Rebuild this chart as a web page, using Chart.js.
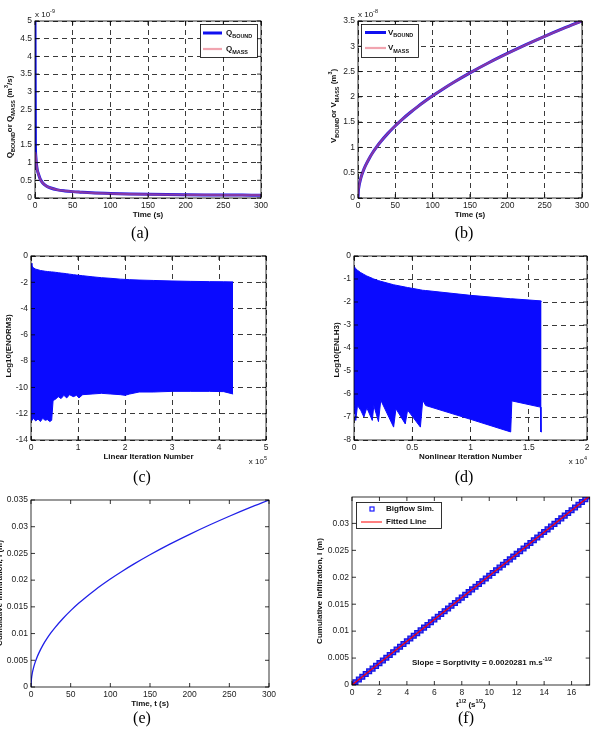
<!DOCTYPE html>
<html>
<head>
<meta charset="utf-8">
<script src="https://cdn.jsdelivr.net/npm/chart.js@4.4.0/dist/chart.umd.min.js"></script>
<style>
  body { margin: 0; background: #fff; width: 595px; height: 729px; position: relative; overflow: hidden; }
  canvas { position: absolute; }
  .cap { position: absolute; font-family: "Liberation Serif", "Times New Roman", serif; font-size: 16px;
         line-height: 18px; transform: translateX(-50%); color: #000; }
</style>
</head>
<body>
<canvas id="ca" width="295" height="225" style="left:0;top:0"></canvas>
<canvas id="cb" width="300" height="225" style="left:295px;top:0"></canvas>
<canvas id="cc" width="295" height="235" style="left:0;top:240px"></canvas>
<canvas id="cd" width="300" height="235" style="left:295px;top:240px"></canvas>
<canvas id="ce" width="300" height="235" style="left:-10px;top:480px"></canvas>
<canvas id="cf" width="300" height="235" style="left:295px;top:480px"></canvas>

<div class="cap" style="left:140px;top:224px">(a)</div>
<div class="cap" style="left:464px;top:224px">(b)</div>
<div class="cap" style="left:142px;top:468px">(c)</div>
<div class="cap" style="left:464px;top:468px">(d)</div>
<div class="cap" style="left:142px;top:709px">(e)</div>
<div class="cap" style="left:466px;top:709px">(f)</div>

<script>
// (a) flux through boundary / from mass balance, in 1e-9 m3/s
const tFlux = [0, 0.5, 1, 2, 3, 5, 7, 10, 15, 20, 30, 40, 50, 60, 75, 100, 125, 150, 175, 200, 225, 250, 275, 300];
const qBound = [5.0, 1.6, 1.2, 0.95, 0.8, 0.65, 0.53, 0.43, 0.34, 0.29, 0.23, 0.2, 0.18, 0.165, 0.145, 0.125, 0.112, 0.103, 0.096, 0.091, 0.087, 0.084, 0.082, 0.08];
const qMass = [1.3, 1.25, 1.2, 0.95, 0.8, 0.65, 0.53, 0.43, 0.34, 0.29, 0.23, 0.2, 0.18, 0.165, 0.145, 0.125, 0.112, 0.103, 0.096, 0.091, 0.087, 0.084, 0.082, 0.08];

// (b) cumulative volume, in 1e-8 m3
const tVol = [0, 0.5, 1, 2, 3, 5, 7, 10, 15, 20, 25, 30, 40, 50, 60, 70, 80, 90, 100, 115, 130, 150, 175, 200, 225, 250, 275, 300];
const vBound = [0, 0.143, 0.202, 0.286, 0.35, 0.452, 0.535, 0.639, 0.783, 0.904, 1.011, 1.107, 1.278, 1.429, 1.566, 1.691, 1.808, 1.917, 2.021, 2.167, 2.304, 2.475, 2.674, 2.858, 3.032, 3.196, 3.352, 3.5];
const vMass = [0, 0.143, 0.202, 0.286, 0.35, 0.452, 0.535, 0.639, 0.783, 0.904, 1.011, 1.107, 1.278, 1.429, 1.566, 1.691, 1.808, 1.917, 2.021, 2.167, 2.304, 2.475, 2.674, 2.858, 3.032, 3.196, 3.352, 3.5];

// (c) envelope of log10(ENORM3), iteration in 1e5
const cIter = [0, 0.02, 0.05, 0.1, 0.15, 0.2, 0.25, 0.3, 0.35, 0.4, 0.44, 0.47, 0.52, 0.58, 0.64, 0.7, 0.76, 0.82, 0.9, 0.97, 1.02, 1.1, 1.3, 1.5, 1.7, 1.9, 2.0, 2.1, 2.3, 2.6, 3.0, 3.4, 3.8, 4.1, 4.3];
const cTop = [-0.55, -0.75, -0.9, -1.0, -1.05, -1.1, -1.13, -1.16, -1.18, -1.2, -1.21, -1.22, -1.24, -1.27, -1.3, -1.32, -1.35, -1.38, -1.42, -1.45, -1.47, -1.5, -1.58, -1.65, -1.7, -1.76, -1.78, -1.8, -1.83, -1.86, -1.9, -1.93, -1.95, -1.96, -1.97];
const cBottom = [-12.3, -12.5, -12.35, -12.55, -12.4, -12.6, -12.35, -12.5, -12.45, -12.6, -12.5, -11.0, -10.9, -10.7, -10.85, -10.6, -10.8, -10.55, -10.7, -10.6, -10.8, -10.55, -10.5, -10.45, -10.5, -10.55, -10.6, -10.5, -10.35, -10.35, -10.3, -10.3, -10.3, -10.32, -10.5];

// (d) envelope of log10(ENLH3), iteration in 1e4
const dIter = [0, 0.015, 0.03, 0.057, 0.085, 0.11, 0.157, 0.17, 0.21, 0.23, 0.34, 0.36, 0.44, 0.46, 0.57, 0.59, 0.615, 1.0, 1.345, 1.355, 1.6, 1.605, 1.61];
const dTop = [-0.45, -0.55, -0.62, -0.72, -0.8, -0.87, -0.97, -1.0, -1.07, -1.1, -1.25, -1.27, -1.35, -1.37, -1.47, -1.49, -1.5, -1.71, -1.86, -1.86, -1.95, -1.96, -1.98];
const dBottom = [-6.35, -7.15, -6.5, -6.7, -7.0, -6.6, -7.15, -6.5, -7.2, -6.27, -7.44, -6.64, -7.3, -6.7, -7.44, -6.27, -6.5, -7.1, -7.65, -6.3, -6.57, -7.65, -7.65];

// (e) cumulative infiltration (m) vs time (s)
const tInf = [0, 0.5, 1, 2, 3, 5, 7, 10, 15, 20, 25, 30, 40, 50, 60, 70, 80, 90, 100, 115, 130, 150, 175, 200, 225, 250, 275, 300];
const infil = [0, 0.00143, 0.00202, 0.00286, 0.0035, 0.00452, 0.00535, 0.00639, 0.00783, 0.00904, 0.01011, 0.01107, 0.01278, 0.01429, 0.01566, 0.01691, 0.01808, 0.01917, 0.02021, 0.02167, 0.02304, 0.02475, 0.02674, 0.02858, 0.03032, 0.03196, 0.03352, 0.035];

// (f) infiltration vs sqrt(t)
const sqrtT = [0.15, 0.25, 0.5, 0.75, 1, 1.25, 1.5, 1.75, 2, 2.25, 2.5, 2.75, 3, 3.25, 3.5, 3.75, 4, 4.25, 4.5, 4.75,
  5, 5.25, 5.5, 5.75, 6, 6.25, 6.5, 6.75, 7, 7.25, 7.5, 7.75, 8, 8.25, 8.5, 8.75, 9, 9.25, 9.5, 9.75,
  10, 10.25, 10.5, 10.75, 11, 11.25, 11.5, 11.75, 12, 12.25, 12.5, 12.75, 13, 13.25, 13.5, 13.75, 14, 14.25, 14.5, 14.75,
  15, 15.25, 15.5, 15.75, 16, 16.25, 16.5, 16.75, 17, 17.25, 17.32];
const simI = [0, 0.00051, 0.00101, 0.00152, 0.00203, 0.00254, 0.00304, 0.00355, 0.00406, 0.00456, 0.00507, 0.00558, 0.00608, 0.00659, 0.0071, 0.00761, 0.00811, 0.00862, 0.00913, 0.00963,
  0.01014, 0.01065, 0.01115, 0.01166, 0.01217, 0.01268, 0.01318, 0.01369, 0.0142, 0.0147, 0.01521, 0.01572, 0.01622, 0.01673, 0.01724, 0.01775, 0.01825, 0.01876, 0.01927, 0.01977,
  0.02028, 0.02079, 0.0213, 0.0218, 0.02231, 0.02282, 0.02332, 0.02383, 0.02434, 0.02484, 0.02535, 0.02586, 0.02637, 0.02687, 0.02738, 0.02789, 0.02839, 0.0289, 0.02941, 0.02991,
  0.03042, 0.03093, 0.03144, 0.03194, 0.03245, 0.03296, 0.03346, 0.03397, 0.03448, 0.03498, 0.03513];
const fitX = [0, 17.32];
const fitI = [0, 0.0351];

const FAM = '"Liberation Sans", Arial, Helvetica, sans-serif';
Chart.defaults.font.family = FAM;

const pts = (xs, ys) => xs.map((x, i) => ({ x: x, y: ys[i] }));

// text with sub/superscripts: parts = [[text, mode]], mode '' | 'sub' | 'sup'
function rich(ctx, parts, x, y, o) {
  o = o || {};
  const size = o.size || 8;
  const weight = o.bold === false ? '' : 'bold ';
  ctx.save();
  ctx.translate(x, y);
  if (o.rot) ctx.rotate(o.rot);
  let w = 0;
  const segs = parts.map(p => {
    const s = p[1] ? size * 0.68 : size;
    ctx.font = weight + s + 'px ' + FAM;
    const sw = ctx.measureText(p[0]).width;
    w += sw;
    return { t: p[0], m: p[1], s: s, sw: sw };
  });
  let cx = o.align === 'left' ? 0 : o.align === 'right' ? -w : -w / 2;
  ctx.textAlign = 'left';
  ctx.textBaseline = 'middle';
  ctx.fillStyle = '#111';
  segs.forEach(g => {
    ctx.font = weight + g.s + 'px ' + FAM;
    const dy = g.m === 'sub' ? size * 0.38 : g.m === 'sup' ? -size * 0.45 : 0;
    ctx.fillText(g.t, cx, dy);
    cx += g.sw;
  });
  ctx.restore();
}

// box round the axes with inward ticks, then extra texts
function boxPlugin(draw) {
  return {
    id: 'box',
    afterDraw(chart) {
      const { ctx, chartArea: a, scales } = chart;
      ctx.save();
      ctx.setLineDash([]);
      ctx.strokeStyle = '#000';
      ctx.lineWidth = 0.8;
      ctx.strokeRect(a.left, a.top, a.width, a.height);
      ctx.beginPath();
      scales.x.ticks.forEach((t, i) => {
        const p = scales.x.getPixelForTick(i);
        ctx.moveTo(p, a.bottom); ctx.lineTo(p, a.bottom - 4);
        ctx.moveTo(p, a.top); ctx.lineTo(p, a.top + 4);
      });
      scales.y.ticks.forEach((t, i) => {
        const p = scales.y.getPixelForTick(i);
        ctx.moveTo(a.left, p); ctx.lineTo(a.left + 4, p);
        ctx.moveTo(a.right, p); ctx.lineTo(a.right - 4, p);
      });
      ctx.stroke();
      if (draw) draw(ctx, a);
      ctx.restore();
    }
  };
}

function axis(min, max, step, size, grid) {
  return {
    type: 'linear', min: min, max: max,
    border: { display: false, dash: [5, 4] },
    grid: { display: grid, color: '#3a3a3a', lineWidth: 1, drawTicks: false },
    ticks: {
      stepSize: step, padding: 3, color: '#222', font: { size: 8.5 },
      maxRotation: 0, autoSkip: false, includeBounds: false,
      callback: v => String(+v.toFixed(6))
    },
    afterFit: s => { if (s.isHorizontal()) s.height = size; else s.width = size; }
  };
}

function legendBox(ctx, x, y, w, h) {
  ctx.fillStyle = '#fff';
  ctx.fillRect(x, y, w, h);
  ctx.strokeStyle = '#000';
  ctx.lineWidth = 0.8;
  ctx.strokeRect(x + 0.5, y + 0.5, w, h);
}

function seg(ctx, x1, x2, y, color, width) {
  ctx.beginPath();
  ctx.strokeStyle = color;
  ctx.lineWidth = width;
  ctx.moveTo(x1, y); ctx.lineTo(x2, y);
  ctx.stroke();
}

const BLUE = '#1010f0';
const PINK = 'rgba(230, 90, 110, 0.55)';
const ROT = -Math.PI / 2;

function makeChart(id, datasets, opt) {
  return new Chart(document.getElementById(id), {
    type: 'line',
    data: { datasets: datasets },
    options: {
      responsive: false, animation: false, devicePixelRatio: 1,
      layout: { padding: opt.padding },
      plugins: { legend: { display: false }, tooltip: { enabled: false } },
      elements: { point: { radius: 0 }, line: { tension: 0 } },
      scales: { x: opt.x, y: opt.y }
    },
    plugins: [boxPlugin(opt.draw)]
  });
}

// (a)
makeChart('ca', [
  { data: pts(tFlux, qMass), borderColor: PINK, borderWidth: 2.2, cubicInterpolationMode: 'monotone' },
  { data: pts(tFlux, qBound), borderColor: BLUE, borderWidth: 3, cubicInterpolationMode: 'monotone' }
], {
  padding: { top: 21, right: 34, left: 0, bottom: 0 },
  x: axis(0, 300, 50, 27, true),
  y: axis(0, 5, 0.5, 35, true),
  draw(ctx, a) {
    rich(ctx, [['Q', ''], ['BOUND', 'sub'], ['or Q', ''], ['MASS', 'sub'], [' (m', ''], ['3', 'sup'], ['/s)', '']], 10, 117, { rot: ROT });
    rich(ctx, [['Time (s)', '']], (a.left + a.right) / 2, 215);
    rich(ctx, [['x 10', ''], ['-9', 'sup']], a.left, 15, { align: 'left', bold: false });
    legendBox(ctx, 200, 24, 57, 33);
    seg(ctx, 203, 222, 33, BLUE, 3);
    seg(ctx, 203, 222, 49, PINK, 2.2);
    rich(ctx, [['Q', ''], ['BOUND', 'sub']], 226, 33, { align: 'left' });
    rich(ctx, [['Q', ''], ['MASS', 'sub']], 226, 49, { align: 'left' });
  }
});

// (b)
makeChart('cb', [
  { data: pts(tVol, vMass), borderColor: PINK, borderWidth: 2.2, cubicInterpolationMode: 'monotone' },
  { data: pts(tVol, vBound), borderColor: BLUE, borderWidth: 3, cubicInterpolationMode: 'monotone' }
], {
  padding: { top: 21, right: 13, left: 0, bottom: 0 },
  x: axis(0, 300, 50, 27, true),
  y: axis(0, 3.5, 0.5, 63, true),
  draw(ctx, a) {
    rich(ctx, [['V', ''], ['BOUND', 'sub'], ['or V', ''], ['MASS', 'sub'], [' (m', ''], ['3', 'sup'], [')', '']], 39, 106, { rot: ROT });
    rich(ctx, [['Time (s)', '']], (a.left + a.right) / 2, 215);
    rich(ctx, [['x 10', ''], ['-8', 'sup']], a.left, 15, { align: 'left', bold: false });
    legendBox(ctx, 66, 24, 57, 33);
    seg(ctx, 70, 91, 32.5, BLUE, 3);
    seg(ctx, 70, 91, 48, PINK, 2.2);
    rich(ctx, [['V', ''], ['BOUND', 'sub']], 93, 32.5, { align: 'left' });
    rich(ctx, [['V', ''], ['MASS', 'sub']], 93, 48, { align: 'left' });
  }
});

// (c)
makeChart('cc', [
  { data: pts(cIter, cTop), borderColor: '#0a0aff', borderWidth: 1, fill: '+1', backgroundColor: '#0a0aff' },
  { data: pts(cIter, cBottom), borderColor: '#0a0aff', borderWidth: 1 }
], {
  padding: { top: 16, right: 29, left: 0, bottom: 0 },
  x: axis(0, 5, 1, 35, true),
  y: axis(-14, 0, 2, 31, true),
  draw(ctx, a) {
    rich(ctx, [['Log10(ENORM3)', '']], 8.5, 106, { rot: ROT });
    rich(ctx, [['Linear Iteration Number', '']], (a.left + a.right) / 2, 217);
    rich(ctx, [['x 10', ''], ['5', 'sup']], a.right + 1, 222, { align: 'right', bold: false });
  }
});

// (d)
makeChart('cd', [
  { data: pts(dIter, dTop), borderColor: '#0a0aff', borderWidth: 1, fill: '+1', backgroundColor: '#0a0aff' },
  { data: pts(dIter, dBottom), borderColor: '#0a0aff', borderWidth: 1 }
], {
  padding: { top: 16, right: 8, left: 0, bottom: 0 },
  x: axis(0, 2, 0.5, 35, true),
  y: axis(-8, 0, 1, 59, true),
  draw(ctx, a) {
    rich(ctx, [['Log10(ENLH3)', '']], 42, 110, { rot: ROT });
    rich(ctx, [['Nonlinear Iteration Number', '']], (a.left + a.right) / 2, 217);
    rich(ctx, [['x 10', ''], ['4', 'sup']], a.right, 222, { align: 'right', bold: false });
  }
});

// (e)
makeChart('ce', [
  { data: pts(tInf, infil), borderColor: '#2020e8', borderWidth: 1.3, cubicInterpolationMode: 'monotone' }
], {
  padding: { top: 20, right: 21, left: 0, bottom: 0 },
  x: axis(0, 300, 50, 28, false),
  y: axis(0, 0.035, 0.005, 41, false),
  draw(ctx, a) {
    rich(ctx, [['Cumulative Infiltration, I (m)', '']], 10, 113, { rot: ROT });
    rich(ctx, [['Time, t (s)', '']], (a.left + a.right) / 2, 224);
  }
});

// (f)
makeChart('cf', [
  { data: pts(fitX, fitI), borderColor: '#ff0000', borderWidth: 1.2 },
  { data: pts(sqrtT, simI), showLine: false, pointStyle: 'rect', pointRadius: 3.4,
    pointBorderColor: '#1414e6', pointBorderWidth: 1.3, pointBackgroundColor: 'rgba(30,30,240,0.8)' }
], {
  padding: { top: 17, right: 3, left: 0, bottom: 0 },
  x: axis(0, 17.32, 2, 30, false),
  y: axis(0, 0.0349, 0.005, 57, false),
  draw(ctx, a) {
    rich(ctx, [['Cumulative Infiltration, I (m)', '']], 25, 111, { rot: ROT });
    rich(ctx, [['t', ''], ['1/2', 'sup'], [' (s', ''], ['1/2', 'sup'], [')', '']], (a.left + a.right) / 2, 225);
    rich(ctx, [['Slope = Sorptivity = 0.0020281 m.s', ''], ['-1/2', 'sup']], 187, 183);
    legendBox(ctx, 61, 22, 85, 26);
    ctx.strokeStyle = '#1a1aff';
    ctx.lineWidth = 1.2;
    ctx.strokeRect(75, 27, 4, 4);
    seg(ctx, 66, 87, 42, '#ff0000', 1);
    rich(ctx, [['Bigflow Sim.', '']], 91, 29, { align: 'left' });
    rich(ctx, [['Fitted Line', '']], 91, 42, { align: 'left' });
  }
});
</script>
</body>
</html>
